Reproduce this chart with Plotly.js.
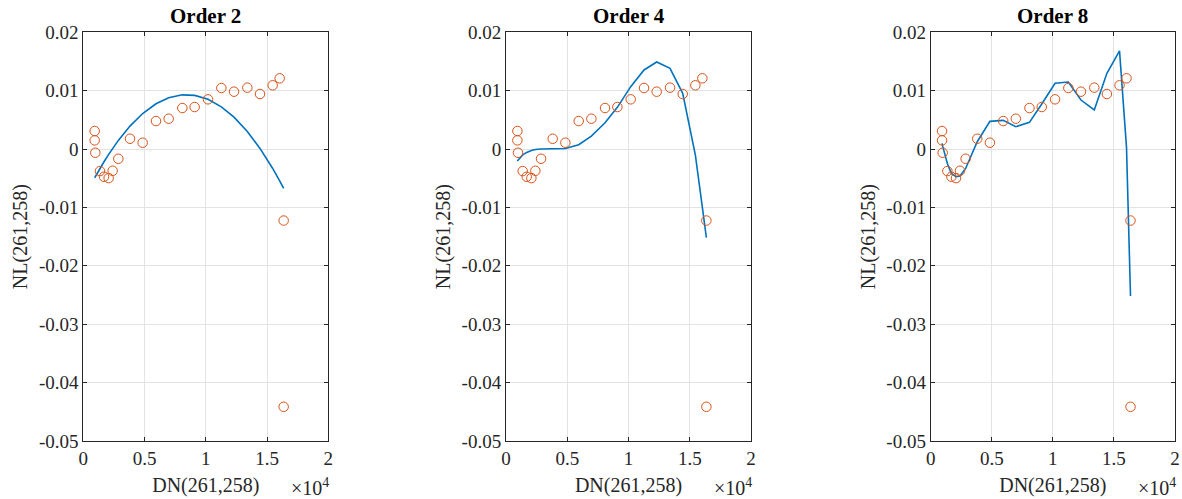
<!DOCTYPE html>
<html>
<head>
<meta charset="utf-8">
<script src="https://cdn.plot.ly/plotly-3.0.1.min.js"></script>
<style>html,body{margin:0;padding:0;background:#fff;}#chart{width:1182px;height:499px;}</style>
</head>
<body>
<div id="chart"></div>
<script>
// Measured data: DN(261,258) vs NL(261,258)
const dn = [930, 930, 980, 1363, 1690, 2071, 2397, 2860, 3812, 4846, 5935, 6969, 8084, 9091, 10180, 11268, 12302, 13390, 14425, 15459, 16030, 16357, 16357];
const nl = [0.00309, 0.00149, -0.00063, -0.00377, -0.00474, -0.00497, -0.00372, -0.00166, 0.00177, 0.00109, 0.0048, 0.0052, 0.00703, 0.0072, 0.00852, 0.01046, 0.00983, 0.01052, 0.00943, 0.01092, 0.01212, -0.01224, -0.04414];

// Polynomial fits evaluated at the DN values
const fit2 = [-0.00491, -0.00491, -0.00472, -0.00331, -0.00217, -0.00090, 0.00013, 0.00149, 0.00394, 0.00609, 0.00776, 0.00879, 0.00929, 0.00920, 0.00852, 0.00724, 0.00546, 0.00301, 0.00011, -0.00332, -0.00546, -0.00675, -0.00675];
const fit4 = [-0.00206, -0.00206, -0.0019, -0.0010, -0.00057, -0.00023, -0.00006, 0.0, 0.0, 0.00011, 0.00074, 0.00223, 0.00451, 0.00715, 0.01069, 0.01355, 0.01492, 0.01384, 0.00955, -0.00103, -0.0100, -0.01515, -0.01515];
const fit8 = [0.00098, 0.00098, 0.0005, -0.00246, -0.00417, -0.00474, -0.00463, -0.00332, 0.00126, 0.00475, 0.00492, 0.00383, 0.00458, 0.00772, 0.01127, 0.01149, 0.0084, 0.00669, 0.01298, 0.01681, 0.0003, -0.02516, -0.02516];

const titles = ["Order 2", "Order 4", "Order 8"];
const fits = [fit2, fit4, fit8];

const yTickVals = [-0.05, -0.04, -0.03, -0.02, -0.01, 0, 0.01, 0.02];
const yTickText = ["-0.05", "-0.04", "-0.03", "-0.02", "-0.01", "0", "0.01", "0.02"];
const xTickVals = [0, 5000, 10000, 15000, 20000];
const xTickText = ["0", "0.5", "1", "1.5", "2"];

const W = 1182, H = 499;
const axLeft = [83.3, 506, 930.7];
const axRight = [328.3, 751, 1175];
const axTop = 32.3, axBottom = 441;

const FONT = 'Liberation Serif, Times New Roman, Times, serif';
const TXT = '#262626';

const data = [];
const layout = {
  width: W, height: H,
  margin: {l: 0, r: 0, t: 0, b: 0, pad: 0},
  paper_bgcolor: '#ffffff',
  plot_bgcolor: '#ffffff',
  showlegend: false,
  font: {family: FONT, color: TXT, size: 19},
  annotations: []
};

for (let i = 0; i < 3; i++) {
  const sfx = i === 0 ? '' : String(i + 1);
  const xa = 'x' + sfx, ya = 'y' + sfx;
  data.push({
    x: dn, y: fits[i], xaxis: xa, yaxis: ya,
    type: 'scatter', mode: 'lines',
    line: {color: '#0072BD', width: 1.6},
    hoverinfo: 'skip'
  });
  data.push({
    x: dn, y: nl, xaxis: xa, yaxis: ya,
    type: 'scatter', mode: 'markers',
    marker: {symbol: 'circle-open', size: 9.5, color: '#D95319', line: {width: 1, color: '#D95319'}},
    hoverinfo: 'skip'
  });
  const common = {
    showline: true, linecolor: TXT, linewidth: 1, mirror: 'ticks',
    ticks: 'inside', ticklen: 4, tickcolor: TXT, tickwidth: 1,
    showgrid: true, gridcolor: '#e3e3e3', gridwidth: 1,
    zeroline: false, automargin: false,
    tickfont: {family: FONT, size: 19, color: TXT}
  };
  layout['xaxis' + sfx] = Object.assign({}, common, {
    domain: [axLeft[i] / W, axRight[i] / W],
    anchor: ya,
    range: [0, 20000],
    tickmode: 'array', tickvals: xTickVals, ticktext: xTickText,
    title: {text: 'DN(261,258)', font: {family: FONT, size: 20, color: TXT}, standoff: 10}
  });
  layout['yaxis' + sfx] = Object.assign({}, common, {
    domain: [1 - axBottom / H, 1 - axTop / H],
    anchor: xa,
    range: [-0.05, 0.02],
    tickmode: 'array', tickvals: yTickVals, ticktext: yTickText,
    title: {text: 'NL(261,258)', font: {family: FONT, size: 20, color: TXT}, standoff: 5}
  });
  layout.annotations.push({
    text: '<b>' + titles[i] + '</b>',
    xref: 'paper', yref: 'paper',
    x: (axLeft[i] + axRight[i]) / 2 / W, y: 1 - 16 / H,
    xanchor: 'center', yanchor: 'middle', showarrow: false,
    font: {family: FONT, size: 21, color: '#000000'}
  });
  layout.annotations.push({
    text: '×10<sup>4</sup>',
    xref: 'paper', yref: 'paper',
    x: (axRight[i] + 3) / W, y: 1 - 487 / H,
    xanchor: 'right', yanchor: 'middle', showarrow: false,
    font: {family: FONT, size: 20, color: TXT}
  });
}

Plotly.newPlot('chart', data, layout, {displayModeBar: false, staticPlot: true});
</script>
</body>
</html>
